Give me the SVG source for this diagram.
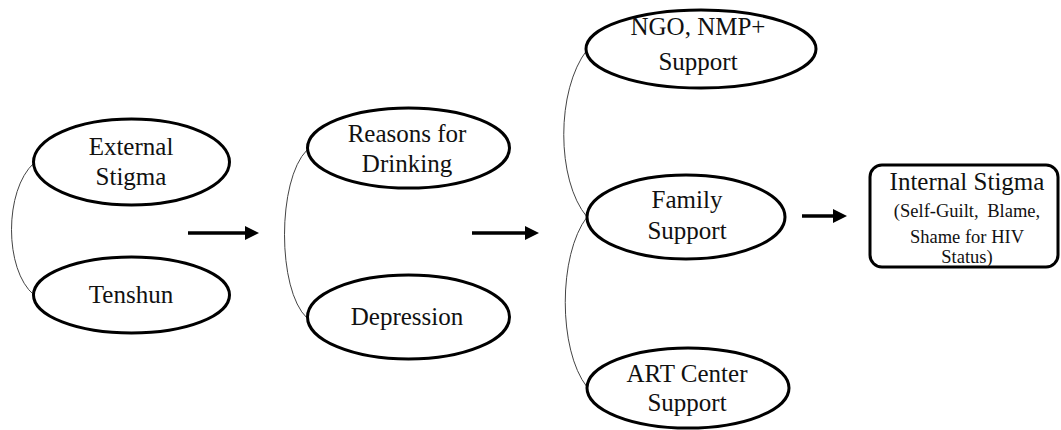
<svg xmlns="http://www.w3.org/2000/svg" width="1061" height="430" viewBox="0 0 1061 430">
<defs>
<marker id="ah" markerWidth="4" markerHeight="4" refX="2" refY="2" orient="auto" markerUnits="strokeWidth">
<path d="M0,0 L4,2 L0,4 z" fill="#000"/>
</marker>
<style>
.node{fill:#fff;stroke:#000;stroke-width:3}
.t{font-family:"Liberation Serif","Times New Roman",serif;font-size:25px;fill:#111;text-anchor:middle}
.s{font-family:"Liberation Serif","Times New Roman",serif;font-size:18.5px;fill:#111;text-anchor:middle}
.link{fill:none;stroke:#444;stroke-width:1}
.arrow{fill:none;stroke:#000;stroke-width:3.5;marker-end:url(#ah)}
</style>
</defs>
<rect width="1061" height="430" fill="#fff"/>
<g id="connectors">
<path class="link" d="M34,163 C4,190 4,270 34,295"/>
<path class="link" d="M307,150 C277,180 277,290 307,318"/>
<path class="link" d="M587,50 C556,90 556,180 587,217"/>
<path class="link" d="M587,217 C558,255 558,350 587,387"/>
<line class="arrow" x1="188" y1="233" x2="252" y2="233"/>
<line class="arrow" x1="472" y1="233" x2="532" y2="233"/>
<line class="arrow" x1="802" y1="216" x2="840" y2="216"/>
</g>
<g id="external-stigma">
<ellipse class="node" cx="131.5" cy="162" rx="98" ry="43"/>
<text class="t" x="131" y="155">External</text>
<text class="t" x="131" y="185">Stigma</text>
</g>
<g id="tenshun">
<ellipse class="node" cx="131.5" cy="295" rx="98" ry="38"/>
<text class="t" x="131" y="303">Tenshun</text>
</g>
<g id="reasons-for-drinking">
<ellipse class="node" cx="408.5" cy="148" rx="101" ry="40"/>
<text class="t" x="407" y="142">Reasons for</text>
<text class="t" x="407" y="172">Drinking</text>
</g>
<g id="depression">
<ellipse class="node" cx="408.5" cy="317" rx="101" ry="42"/>
<text class="t" x="407" y="325">Depression</text>
</g>
<g id="ngo-nmp-support">
<ellipse class="node" cx="701" cy="49" rx="115" ry="39"/>
<text class="t" x="698" y="35">NGO, NMP+</text>
<text class="t" x="698" y="70">Support</text>
</g>
<g id="family-support">
<ellipse class="node" cx="686" cy="217" rx="99" ry="42"/>
<text class="t" x="687" y="208">Family</text>
<text class="t" x="687" y="239">Support</text>
</g>
<g id="art-center-support">
<ellipse class="node" cx="688" cy="388" rx="101" ry="40"/>
<text class="t" x="687" y="382">ART Center</text>
<text class="t" x="687" y="411">Support</text>
</g>
<g id="internal-stigma">
<rect class="node" x="870" y="165" width="188" height="102" rx="12" ry="12"/>
<text class="t" x="967" y="190">Internal Stigma</text>
<text class="s" x="967" y="217" word-spacing="4">(Self-Guilt, Blame,</text>
<text class="s" x="967" y="243">Shame for HIV</text>
<text class="s" x="967" y="263">Status)</text>
</g>
</svg>
